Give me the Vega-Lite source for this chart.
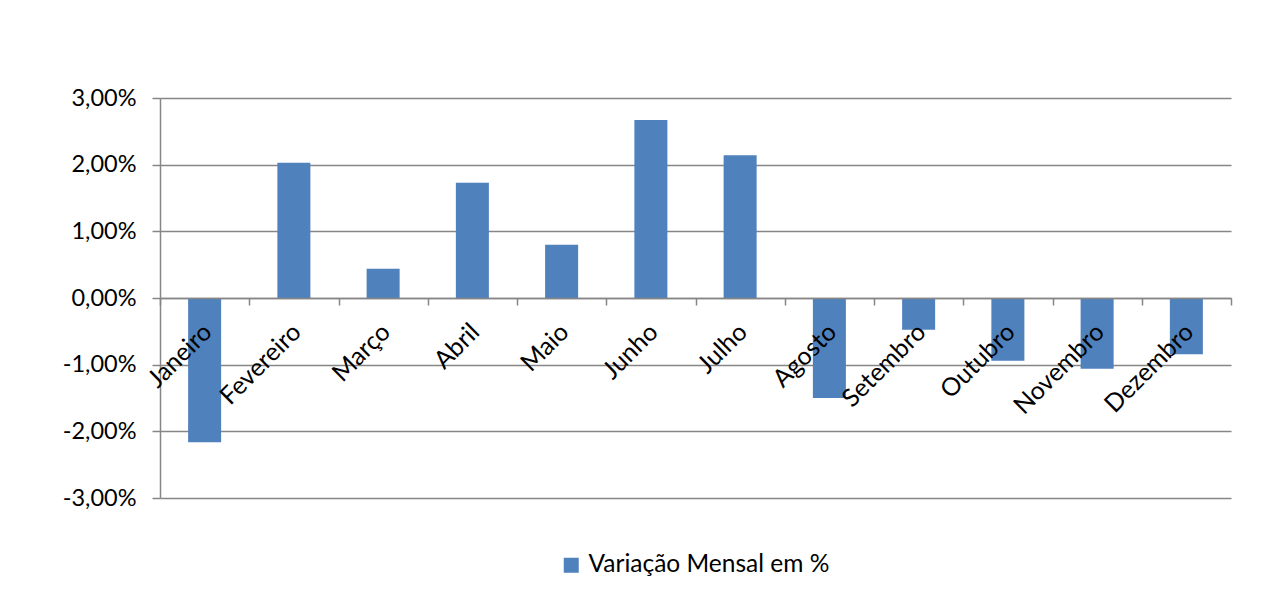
{
  "$schema": "https://vega.github.io/schema/vega-lite/v6.json",
  "width": 1071,
  "height": 400,
  "autosize": {"type": "none"},
  "padding": {"left": 160, "top": 98, "right": 53, "bottom": 111},
  "background": "white",
  "data": {
    "values": [
      {"mes": "Janeiro", "valor": -2.165, "serie": "Variação Mensal em %"},
      {"mes": "Fevereiro", "valor": 2.03, "serie": "Variação Mensal em %"},
      {"mes": "Março", "valor": 0.44, "serie": "Variação Mensal em %"},
      {"mes": "Abril", "valor": 1.73, "serie": "Variação Mensal em %"},
      {"mes": "Maio", "valor": 0.80, "serie": "Variação Mensal em %"},
      {"mes": "Junho", "valor": 2.67, "serie": "Variação Mensal em %"},
      {"mes": "Julho", "valor": 2.14, "serie": "Variação Mensal em %"},
      {"mes": "Agosto", "valor": -1.50, "serie": "Variação Mensal em %"},
      {"mes": "Setembro", "valor": -0.475, "serie": "Variação Mensal em %"},
      {"mes": "Outubro", "valor": -0.94, "serie": "Variação Mensal em %"},
      {"mes": "Novembro", "valor": -1.06, "serie": "Variação Mensal em %"},
      {"mes": "Dezembro", "valor": -0.845, "serie": "Variação Mensal em %"}
    ]
  },
  "mark": {"type": "bar", "width": {"band": 0.37}},
  "encoding": {
    "x": {
      "field": "mes",
      "type": "nominal",
      "sort": null,
      "scale": {"paddingInner": 0, "paddingOuter": 0},
      "axis": {
        "title": null,
        "offset": -200,
        "zindex": 1,
        "grid": false,
        "domainColor": "#868686",
        "domainWidth": 1.5,
        "tickColor": "#868686",
        "tickWidth": 1.5,
        "tickSize": 7,
        "tickBand": "extent",
        "labelAngle": -45,
        "labelAlign": "right",
        "labelBaseline": "top",
        "labelPadding": 14,
        "labelOffset": -6,
        "labelFont": "Lato",
        "labelFontSize": 25,
        "labelColor": "#000000",
        "labelOverlap": false,
        "labelLimit": 0
      }
    },
    "y": {
      "field": "valor",
      "type": "quantitative",
      "scale": {"domain": [-3, 3], "nice": false},
      "axis": {
        "title": null,
        "values": [-3, -2, -1, 0, 1, 2, 3],
        "labelExpr": "replace(replace(format(datum.value, '.2f'), '.', ','), '−', '-') + '%'",
        "grid": true,
        "gridColor": "#868686",
        "gridWidth": 1.5,
        "domainColor": "#868686",
        "domainWidth": 1.5,
        "tickColor": "#868686",
        "tickWidth": 1.5,
        "tickSize": 8,
        "labelPadding": 16,
        "labelFont": "Lato",
        "labelFontSize": 23.5,
        "labelColor": "#000000"
      }
    },
    "color": {
      "field": "serie",
      "type": "nominal",
      "scale": {"range": ["#4F81BD"]},
      "legend": {
        "title": null,
        "orient": "none",
        "legendX": 399,
        "legendY": 455,
        "symbolType": "square",
        "symbolSize": 225,
        "symbolStrokeWidth": 0,
        "labelFont": "Lato",
        "labelFontSize": 24.5,
        "labelColor": "#000000",
        "labelOffset": 5,
        "labelLimit": 0
      }
    }
  },
  "config": {
    "view": {"stroke": null}
  }
}
